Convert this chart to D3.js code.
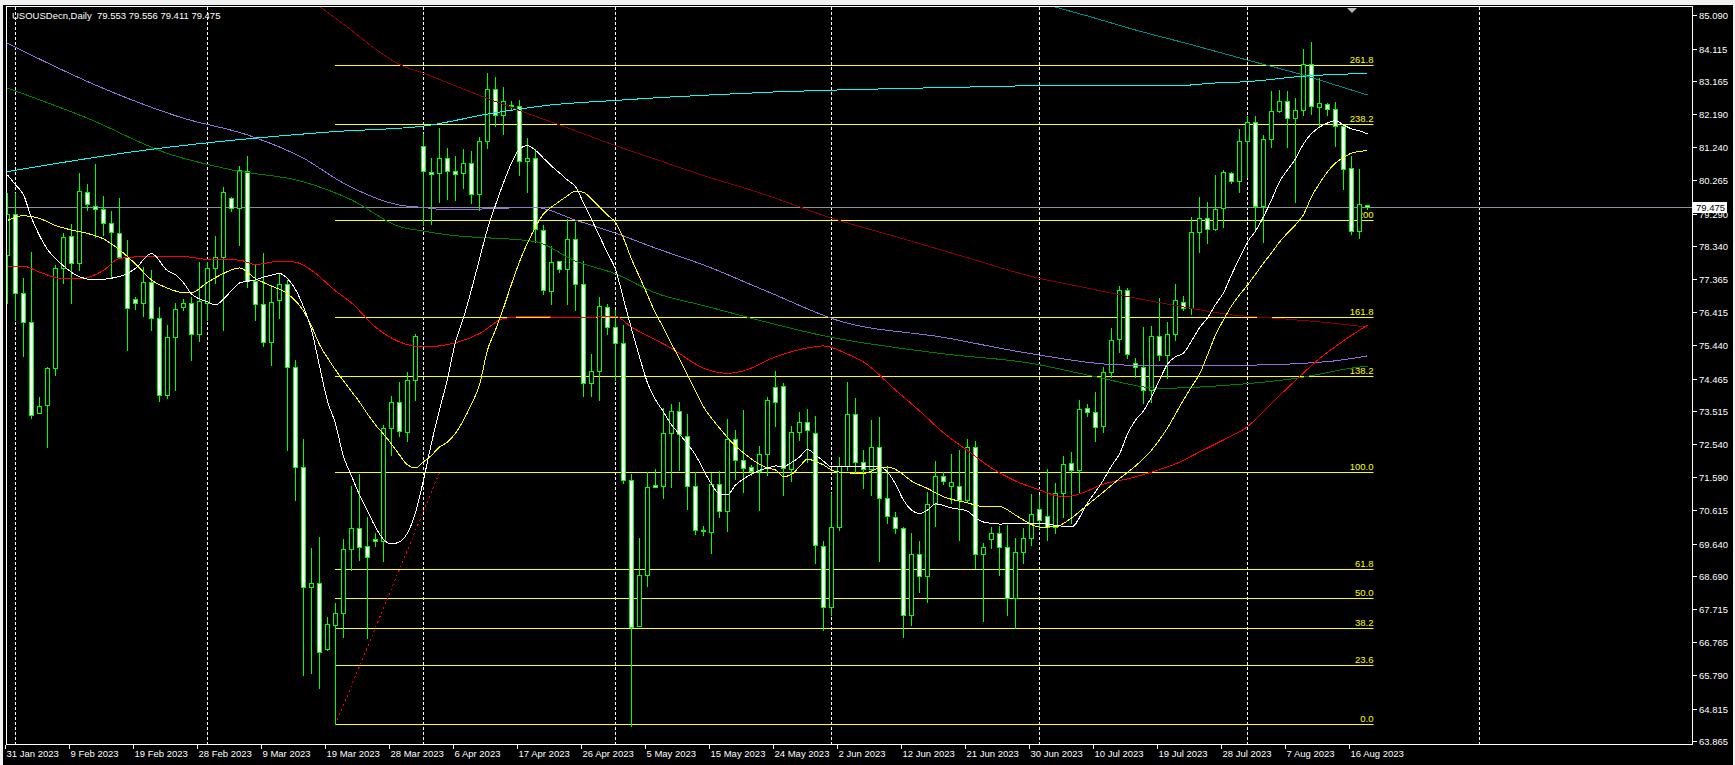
<!DOCTYPE html>
<html>
<head>
<meta charset="utf-8">
<title>USOUSDecn, Daily</title>
<script src="https://cdn.jsdelivr.net/npm/d3@7"></script>
<style>
  html, body { margin: 0; padding: 0; background: #f0f0f0; }
  svg { display: block; }
  text { font-family: "Liberation Sans", Arial, sans-serif; }
</style>
</head>
<body>
<svg id="chart" width="1735" height="765"></svg>
<script>
// bars: one entry per trading day, [open, high, low, close]
var ohlc = [
  [78.08,79.89,76.68,79.28],[79.27,79.88,76.18,76.96],[76.96,77.40,75.13,76.13],[76.13,78.16,73.30,73.40],
  [73.47,73.92,73.45,73.67],[73.69,74.81,72.47,74.77],[74.77,77.79,74.57,77.69],[77.69,78.71,77.25,78.61],
  [78.64,78.99,76.69,77.84],[77.84,80.49,77.64,79.95],[79.93,80.16,79.40,79.56],[79.52,80.74,78.61,79.42],
  [79.42,79.81,78.67,79.01],[79.01,79.38,77.45,78.74],[78.73,79.74,78.01,78.03],[78.03,78.52,75.30,76.52],
  [76.78,76.84,76.50,76.67],[76.67,77.74,76.30,77.30],[77.30,77.64,75.89,76.23],[76.23,76.57,73.81,73.99],
  [73.99,76.03,73.89,75.67],[75.67,76.67,74.13,76.49],[76.55,76.79,76.47,76.68],[76.67,76.86,75.01,75.76],
  [75.76,77.88,75.57,76.72],[76.69,77.88,76.18,77.69],[77.69,78.64,77.27,78.01],[78.01,80.08,75.89,79.91],
  [79.76,79.79,79.38,79.45],[79.45,80.68,78.37,80.57],[80.55,80.98,77.15,77.32],[77.33,77.82,76.18,76.64],
  [76.64,78.13,75.42,75.53],[75.53,77.20,74.86,76.70],[76.75,77.52,76.24,77.22],[77.22,77.35,72.38,74.80],
  [74.80,75.01,70.91,71.89],[71.89,72.70,65.79,68.36],[68.36,69.52,65.84,68.48],[68.48,69.82,65.41,66.48],
  [66.55,67.50,66.53,67.28],[67.25,67.89,64.35,67.62],[67.62,69.76,66.92,69.47],[69.47,71.32,68.87,70.09],
  [70.09,71.67,69.16,69.55],[69.56,70.43,66.87,69.26],[69.77,69.94,69.57,69.70],[69.70,73.11,69.13,73.01],
  [73.01,73.96,72.23,73.77],[73.77,74.37,72.79,72.94],[72.91,74.66,72.65,74.42],[74.41,75.78,73.85,75.72],
  [81.28,81.63,78.97,80.53],[80.51,80.93,78.99,80.45],[80.47,81.78,79.62,80.93],[80.91,81.22,79.72,80.53],
  [80.53,80.97,79.68,80.45],[80.47,81.18,80.03,80.78],[80.78,81.13,79.60,79.85],[79.85,81.53,79.41,81.41],
  [81.41,83.41,81.22,82.93],[82.93,83.28,81.85,82.16],[82.16,82.98,81.63,82.57],[82.45,82.57,82.31,82.48],
  [82.45,82.60,80.43,80.82],[80.82,81.50,79.91,80.93],[80.93,81.18,78.47,78.85],[78.82,78.97,76.93,77.07],
  [77.03,78.35,76.66,77.87],[77.90,77.91,77.57,77.66],[77.66,79.13,76.66,78.56],[78.56,79.03,76.47,77.22],
  [77.22,77.91,73.97,74.35],[74.35,75.18,73.97,74.70],[74.70,76.85,73.85,76.60],[76.56,76.66,75.78,75.97],
  [75.97,76.47,74.41,75.50],[75.50,76.03,71.41,71.50],[71.50,71.68,64.30,67.20],[67.22,69.79,67.22,68.72],
  [68.72,71.72,68.41,71.28],[71.35,71.81,71.28,71.28],[71.31,73.60,70.97,72.88],[72.88,73.72,71.28,73.51],
  [73.51,73.78,71.78,72.85],[72.79,73.43,70.66,71.32],[71.31,71.72,69.91,70.04],[70.03,70.15,69.89,70.01],
  [69.99,71.70,69.37,71.37],[71.37,71.76,70.43,70.60],[70.60,73.27,70.01,72.69],[72.69,72.96,71.52,72.08],
  [72.08,73.55,71.16,71.86],[71.87,71.94,71.65,71.77],[71.77,72.49,70.62,72.25],[72.25,73.94,71.65,73.84],
  [74.21,74.69,73.09,73.79],[74.25,74.35,71.06,71.84],[71.81,73.08,71.48,72.89],[72.89,73.50,72.67,73.20],
  [73.20,73.57,72.03,72.96],[72.86,73.37,69.06,69.60],[69.58,69.70,67.11,67.78],[67.78,71.11,67.55,70.12],
  [70.12,72.18,70.04,71.91],[71.91,74.37,71.79,73.42],[73.42,73.89,71.74,72.02],[72.02,72.38,71.26,71.82],
  [71.82,73.25,71.06,72.47],[72.47,73.33,69.13,70.96],[70.96,71.89,70.23,70.45],[70.43,70.57,69.96,70.09],
  [70.09,70.13,66.92,67.55],[67.55,69.94,67.26,69.33],[69.33,69.70,68.23,68.69],[68.69,71.16,67.94,70.79],
  [70.79,72.04,70.16,71.62],[71.62,71.72,71.37,71.47],[71.32,72.26,70.82,71.45],[71.33,72.38,69.74,70.91],
  [70.91,72.70,70.89,72.45],[72.45,72.65,68.92,69.33],[69.33,69.66,67.38,69.53],[69.77,70.13,69.50,69.96],
  [69.96,70.15,68.72,69.53],[69.53,70.18,67.55,68.04],[68.04,69.80,67.16,69.39],[69.39,70.09,69.06,69.80],
  [69.80,71.09,69.60,70.50],[70.65,71.06,70.10,70.33],[70.45,71.81,69.74,70.13],[70.13,71.40,69.96,71.11],
  [71.13,72.20,70.43,71.96],[71.99,72.33,70.23,71.79],[71.79,73.84,71.16,73.57],[73.60,73.72,73.38,73.48],
  [73.48,74.06,72.65,73.06],[73.09,74.81,72.91,74.65],[74.65,75.94,74.52,75.59],[75.61,77.17,75.25,77.06],
  [77.06,77.11,75.06,75.18],[74.91,75.06,74.50,74.81],[74.80,75.97,73.76,74.13],[74.13,76.00,73.79,75.71],
  [75.71,76.83,75.01,75.15],[75.15,76.13,74.47,75.77],[75.77,77.23,75.59,76.76],[76.71,76.88,76.47,76.52],
  [76.52,79.20,76.36,78.76],[78.76,79.79,78.18,79.15],[79.15,79.64,78.42,78.84],[78.84,80.42,78.81,79.42],
  [79.45,80.57,78.89,80.52],[80.49,80.52,80.18,80.23],[80.23,81.76,79.93,81.41],[81.41,82.15,80.37,81.98],
  [81.98,82.15,78.83,79.51],[79.51,81.59,78.47,81.46],[81.46,82.88,81.23,82.30],[82.29,82.91,82.27,82.58],
  [82.58,82.88,81.23,82.08],[82.08,82.66,79.64,82.32],[82.32,84.11,82.17,83.66],[83.66,84.30,82.20,82.44],
  [82.40,83.25,81.81,82.53],[82.50,82.52,82.17,82.35],[82.34,82.56,81.27,81.85],[81.85,81.88,80.00,80.59],
  [80.62,80.98,78.69,78.78],[78.78,80.59,78.59,79.56],[79.553,79.556,79.411,79.475]
];

// moving averages: [bar, price]
var maWhite = [[0,80.42],[1,80.13],[2,79.84],[3,79.16],[4,78.65],[5,78.24],[6,77.98],[7,77.76],[9,77.44],[11,77.35],[13,77.40],[15,77.54],[16,77.69],[18,78.12],[20,77.62],[21,77.50],[22,77.27],[23,76.94],[25,76.71],[26,76.62],[27,76.79],[28,77.04],[29,77.26],[30,77.31],[31,77.35],[32,77.43],[33,77.49],[34,77.54],[35,77.39],[36,77.07],[37,76.56],[38,75.89],[39,74.83],[40,73.81],[41,73.14],[42,72.19],[43,71.62],[44,71.06],[45,70.59],[46,70.12],[47,69.76],[48,69.63],[49,69.69],[50,69.95],[51,70.54],[52,71.50],[53,72.58],[54,73.55],[55,74.45],[56,75.54],[57,76.24],[58,77.07],[59,77.96],[60,78.84],[61,79.54],[62,80.19],[63,80.77],[64,81.18],[65,81.28],[66,81.14],[67,80.91],[68,80.68],[69,80.48],[70,80.27],[71,80.08],[72,79.60],[73,79.13],[74,78.63],[75,78.14],[76,77.66],[77,76.79],[78,75.92],[79,75.10],[80,74.34],[81,73.85],[82,73.49],[83,73.11],[84,72.84],[85,72.55],[86,72.23],[87,71.79],[88,71.38],[89,71.09],[90,71.07],[91,71.35],[92,71.53],[93,71.67],[94,71.78],[95,71.85],[96,71.91],[97,71.89],[98,72.01],[99,72.17],[100,72.39],[101,72.23],[102,72.05],[103,71.88],[104,71.89],[106,71.89],[109,71.89],[110,71.73],[111,71.38],[112,70.91],[113,70.62],[114,70.52],[115,70.62],[116,70.80],[118,70.68],[120,70.59],[121,70.39],[122,70.27],[124,70.21],[127,70.24],[129,70.24],[131,70.17],[133,70.13],[135,70.83],[137,71.50],[138,71.91],[139,72.26],[140,72.84],[141,73.25],[142,73.52],[143,73.93],[144,74.42],[145,74.89],[146,75.10],[147,75.21],[148,75.56],[149,75.95],[150,76.24],[151,76.63],[152,76.97],[153,77.50],[154,77.99],[155,78.46],[156,78.78],[157,79.20],[158,79.69],[159,80.22],[160,80.57],[161,80.89],[162,81.33],[163,81.63],[164,81.82],[165,81.94],[166,82.01],[167,81.88],[168,81.77],[169,81.71],[170,81.62]];
var maYellow = [[0,79.09],[2,79.23],[4,79.15],[6,78.94],[8,78.81],[10,78.71],[12,78.55],[14,78.23],[16,77.82],[18,77.35],[20,77.11],[22,76.98],[23,76.98],[25,77.28],[27,77.54],[29,77.70],[31,77.39],[33,77.17],[35,76.95],[37,76.44],[38,76.00],[39,75.46],[40,75.07],[41,74.72],[42,74.40],[43,74.09],[44,73.78],[45,73.43],[46,73.11],[47,72.84],[48,72.55],[49,72.23],[50,71.94],[51,71.85],[52,72.03],[53,72.22],[54,72.46],[55,72.61],[56,72.87],[57,73.25],[58,73.72],[59,74.28],[60,75.30],[61,75.89],[62,76.53],[63,77.23],[64,77.88],[65,78.43],[66,78.90],[67,79.28],[68,79.48],[69,79.65],[70,79.81],[71,79.95],[72,79.91],[73,79.72],[74,79.48],[75,79.25],[76,79.03],[77,78.57],[78,77.96],[79,77.44],[80,76.91],[81,76.38],[82,75.95],[83,75.48],[84,75.04],[85,74.57],[86,74.10],[87,73.64],[88,73.31],[89,73.02],[90,72.74],[91,72.49],[92,72.29],[93,72.11],[94,71.96],[95,71.85],[96,71.79],[97,71.60],[98,71.66],[99,71.89],[100,72.11],[101,72.04],[102,71.94],[103,71.79],[104,71.73],[107,71.69],[109,71.85],[110,71.88],[111,71.81],[112,71.65],[113,71.47],[115,71.25],[117,71.01],[120,70.83],[122,70.72],[124,70.72],[126,70.47],[127,70.33],[129,70.12],[131,70.13],[133,70.39],[135,70.77],[137,71.15],[139,71.54],[141,71.91],[143,72.37],[145,73.02],[147,73.84],[148,74.22],[149,74.59],[150,75.15],[151,75.74],[152,76.18],[153,76.59],[154,76.91],[155,77.20],[156,77.52],[157,77.84],[158,78.14],[159,78.46],[160,78.72],[161,78.96],[162,79.26],[163,79.78],[164,80.17],[165,80.51],[166,80.77],[167,80.93],[168,81.06],[169,81.11],[170,81.13]];
var maRed = [[0,77.75],[2,77.75],[4,77.58],[7,77.38],[9,77.38],[12,77.63],[14,77.98],[17,78.03],[22,78.03],[25,77.95],[29,77.93],[31,77.80],[34,77.90],[36,77.87],[38,77.63],[41,77.03],[43,76.68],[46,75.97],[52,75.39],[56,75.51],[59,75.78],[62,76.22],[65,76.28],[71,76.25],[76,76.28],[78,75.97],[83,75.35],[87,74.77],[90,74.62],[92,74.69],[96,75.10],[100,75.36],[102,75.42],[105,75.18],[107,74.95],[111,74.13],[114,73.52],[117,72.88],[120,72.36],[123,71.85],[126,71.47],[129,71.21],[132,71.00],[134,71.09],[137,71.38],[140,71.53],[143,71.73],[146,71.97],[149,72.32],[152,72.67],[155,73.06],[158,73.74],[161,74.41],[164,75.05],[167,75.57],[170,76.03]];
var maMaroon = [[38,85.51],[40,85.18],[43,84.65],[46,84.10],[49,83.65],[52,83.40],[55,83.12],[58,82.84],[61,82.57],[64,82.31],[67,82.05],[70,81.80],[73,81.54],[76,81.28],[79,81.04],[82,80.80],[85,80.56],[88,80.33],[94,79.90],[103,79.16],[112,78.55],[120,78.00],[128,77.45],[135,77.11],[141,76.82],[147,76.56],[153,76.33],[159,76.22],[165,76.10],[170,75.97]];
var maPurple = [[0,84.27],[12,82.95],[22,82.08],[30,81.59],[37,80.91],[42,80.18],[49,79.54],[52,79.47],[55,79.40],[66,79.47],[71,79.10],[76,78.72],[81,78.28],[87,77.79],[95,77.01],[104,76.15],[117,75.67],[128,75.19],[140,74.86],[155,74.86],[165,74.96],[170,75.13]];
var maGreen = [[0,82.96],[10,82.08],[20,81.05],[28,80.57],[37,80.22],[43,79.69],[49,78.91],[52,78.78],[55,78.67],[66,78.47],[71,77.90],[76,77.53],[81,76.97],[87,76.60],[103,75.67],[117,75.19],[128,74.91],[136,74.52],[144,74.18],[153,74.28],[161,74.47],[168,74.77],[170,74.83]];
var maCyan = [[0,80.52],[17,81.14],[41,81.69],[52,81.85],[60,82.20],[64,82.35],[68,82.47],[76,82.60],[82,82.69],[87,82.75],[96,82.85],[106,82.92],[124,83.01],[128,83.03],[146,83.03],[151,83.11],[155,83.15],[162,83.31],[170,83.39]];
var maTeal = [[127,85.60],[131,85.33],[135,85.07],[141,84.66],[148,84.23],[155,83.78],[162,83.34],[166,83.05],[170,82.76]];

// fibonacci object: anchors and levels
var fibFrom = [41, 64.35], fibTo = [54, 71.72];
var fibLevels = [0, 23.6, 38.2, 50, 61.8, 100, 138.2, 161.8, 200, 238.2, 261.8];
var fibLabels = ["0.0", "23.6", "38.2", "50.0", "61.8", "100.0", "138.2", "161.8", "200", "238.2", "261.8"];

var priceTicks = ["85.090","84.115","83.165","82.190","81.240","80.265","79.290","78.340","77.365","76.415","75.440","74.465",
                  "73.515","72.540","71.590","70.615","69.640","68.690","67.715","66.765","65.790","64.815","63.865"];
var dateBars = [0, 8, 16, 24, 32, 40, 48, 56, 64, 72, 80, 88, 96, 104, 112, 120, 128, 136, 144, 152, 160, 168];
var dateLabels = ["31 Jan 2023","9 Feb 2023","19 Feb 2023","28 Feb 2023","9 Mar 2023","19 Mar 2023","28 Mar 2023","6 Apr 2023",
                  "17 Apr 2023","26 Apr 2023","5 May 2023","15 May 2023","24 May 2023","2 Jun 2023","12 Jun 2023","21 Jun 2023",
                  "30 Jun 2023","10 Jul 2023","19 Jul 2023","28 Jul 2023","7 Aug 2023","16 Aug 2023"];
var monthBars = [1, 25, 52, 76, 103, 129, 155, 184];
var bid = 79.475;
var title = "USOUSDecn,Daily  79.553 79.556 79.411 79.475";

var svg = d3.select("#chart"),
    plot = {left: 7, top: 7, right: 1692, bottom: 744};

var x = d3.scaleLinear().domain([0, 170]).range([7.5, 1367.5]);
var y = d3.scaleLinear().domain([63.865, 85.090]).range([741, 15.3]);

function row(v) { return Math.round(y(v)); }

svg.append("rect").attr("x", 3).attr("y", 5).attr("width", 1730).attr("height", 760).attr("fill", "#000");

svg.append("defs").append("clipPath").attr("id", "clip").append("rect")
    .attr("x", plot.left).attr("y", plot.top)
    .attr("width", plot.right - plot.left).attr("height", plot.bottom - plot.top);

var g = svg.append("g").attr("clip-path", "url(#clip)");

// month separators
g.selectAll(".sep").data(monthBars).enter().append("line")
    .attr("x1", function(d) { return x(d); }).attr("x2", function(d) { return x(d); })
    .attr("y1", plot.top).attr("y2", plot.bottom)
    .attr("stroke", "#fff").attr("stroke-dasharray", "3,2");

// bid line
g.append("line")
    .attr("x1", plot.left).attr("x2", plot.right)
    .attr("y1", row(bid) + 0.5).attr("y2", row(bid) + 0.5)
    .attr("stroke", "#8a94a0");

// fibonacci levels
var fibEnd = x(170) + 6;
var fib = g.selectAll(".fib").data(fibLevels).enter().append("g");
fib.append("line")
    .attr("x1", x(fibFrom[0]) - 0.5).attr("x2", fibEnd)
    .attr("y1", function(d) { return row(fibFrom[1] + (fibTo[1] - fibFrom[1]) * d / 100) + 0.5; })
    .attr("y2", function(d) { return row(fibFrom[1] + (fibTo[1] - fibFrom[1]) * d / 100) + 0.5; })
    .attr("stroke", "#ffff00");
fib.append("text")
    .attr("x", fibEnd)
    .attr("y", function(d) { return row(fibFrom[1] + (fibTo[1] - fibFrom[1]) * d / 100) - 2; })
    .attr("text-anchor", "end")
    .attr("font-size", "9.5px")
    .attr("fill", "#ffff00")
    .text(function(d, i) { return fibLabels[i]; });

g.append("line")
    .attr("x1", x(fibFrom[0])).attr("y1", y(fibFrom[1]))
    .attr("x2", x(fibTo[0])).attr("y2", y(fibTo[1]))
    .attr("stroke", "#ff0000").attr("stroke-dasharray", "2,3")
    .attr("shape-rendering", "crispEdges");

// candles
var bar = g.selectAll(".bar").data(ohlc).enter().append("g");
bar.append("line")
    .attr("x1", function(d, i) { return x(i); }).attr("x2", function(d, i) { return x(i); })
    .attr("y1", function(d) { return row(d[1]); })
    .attr("y2", function(d) { return row(d[2]) + 1; })
    .attr("stroke", "#00ff00");
bar.append("rect")
    .attr("x", function(d, i) { return x(i) - 2; })
    .attr("y", function(d) { return row(Math.max(d[0], d[3])) + 0.5; })
    .attr("width", 4)
    .attr("height", function(d) { return Math.max(row(Math.min(d[0], d[3])) - row(Math.max(d[0], d[3])), 1); })
    .attr("fill", function(d) { return d[3] < d[0] ? "#fff" : "#000"; })
    .attr("stroke", "#00ff00");

// moving averages
var line = d3.line()
    .x(function(d) { return x(d[0]); })
    .y(function(d) { return y(d[1]); })
    .curve(d3.curveMonotoneX);

[[maGreen, "#008000"], [maPurple, "#9370db"], [maCyan, "#00ffff"], [maTeal, "#008b8b"],
 [maMaroon, "#8b0000"], [maRed, "#ff0000"], [maYellow, "#ffff00"], [maWhite, "#ffffff"]].forEach(function(m) {
    g.append("path")
        .attr("d", line(m[0]))
        .attr("fill", "none")
        .attr("stroke", m[1])
        .attr("stroke-width", 1)
        .attr("shape-rendering", "crispEdges");
});

// frame
svg.append("rect")
    .attr("x", plot.left - 0.5).attr("y", plot.top - 0.5)
    .attr("width", plot.right - plot.left + 1).attr("height", plot.bottom - plot.top + 1)
    .attr("fill", "none").attr("stroke", "#fff");

svg.append("path").attr("d", "M1347,8L1357,8L1352,13Z").attr("fill", "#b8b8b8");

// price axis
var yAxis = svg.append("g");
priceTicks.forEach(function(t) {
    var yy = Math.round(y(+t)) + 0.5;
    yAxis.append("line").attr("x1", plot.right + 1).attr("x2", plot.right + 5)
        .attr("y1", yy).attr("y2", yy).attr("stroke", "#fff");
    yAxis.append("text").attr("x", plot.right + 7).attr("y", yy).attr("dy", "0.35em")
        .attr("font-size", "9.5px").attr("fill", "#fff").text(t);
});
var by = row(bid);
yAxis.append("rect").attr("x", plot.right + 1).attr("y", by - 5).attr("width", 34).attr("height", 11).attr("fill", "#fff");
yAxis.append("text").attr("x", plot.right + 4).attr("y", by + 0.5).attr("dy", "0.35em")
    .attr("font-size", "9.5px").attr("fill", "#000").text(d3.format(".3f")(bid));

// time axis
var xAxis = svg.append("g");
dateBars.forEach(function(b, i) {
    var xx = x(b) - 2;
    xAxis.append("line").attr("x1", xx).attr("x2", xx).attr("y1", plot.bottom + 1).attr("y2", plot.bottom + 5)
        .attr("stroke", "#fff");
    xAxis.append("text").attr("x", xx + 1).attr("y", 757)
        .attr("font-size", "9.5px").attr("fill", "#fff").text(dateLabels[i]);
});

svg.append("text").attr("x", 12).attr("y", 19)
    .attr("font-size", "9.5px").attr("fill", "#fff").attr("xml:space", "preserve").text(title);
</script>
</body>
</html>
